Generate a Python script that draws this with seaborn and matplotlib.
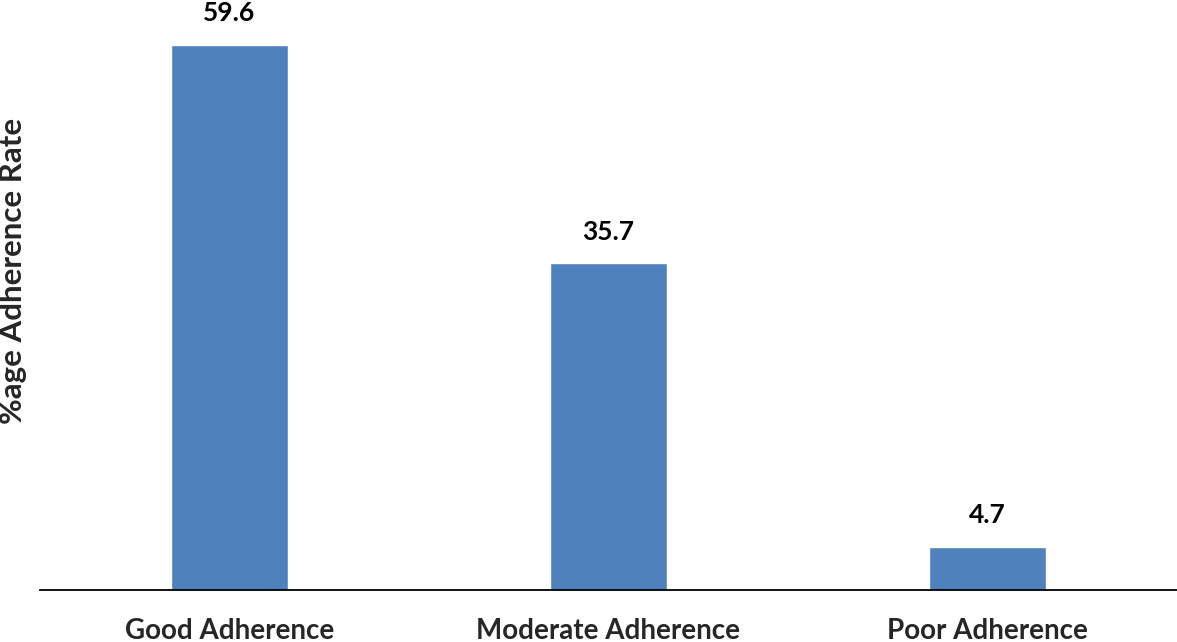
import matplotlib
matplotlib.use("Agg")
import matplotlib.pyplot as plt
import pandas as pd
import seaborn as sns

categories = ["Good Adherence", "Moderate Adherence", "Poor Adherence"]
values = [59.6, 35.7, 4.7]
value_labels = ["59.6", "35.7", "4.7"]

sns.set_style("white")
plt.rcParams["font.family"] = ["Lato", "DejaVu Sans"]

df = pd.DataFrame({"category": categories, "rate": values})

fig = plt.figure(figsize=(11.77, 6.42), dpi=100)
ax = fig.add_axes([40 / 1177, 52 / 642, 1137 / 1177, 590 / 642])

sns.barplot(data=df, x="category", y="rate", color="#4F81BD", saturation=1,
            width=0.31, ax=ax)

for i, v in enumerate(values):
    ax.text(i, v + 2.6, value_labels[i], ha="center", va="baseline",
            fontsize=19, fontweight="bold", color="black")

ax.set_xlim(-0.5, 2.5)
ax.set_ylim(0, 64.5)
ax.set_xlabel("")
ax.set_ylabel("%age Adherence Rate", fontsize=22.5, fontweight="bold",
              va="center")
ax.yaxis.set_label_coords(-0.024, 0.54)
ax.set_yticks([])
ax.tick_params(axis="x", length=0, labelsize=20, pad=20)
for lbl in ax.get_xticklabels():
    lbl.set_fontweight("bold")

for side in ["top", "right", "left"]:
    ax.spines[side].set_visible(False)
ax.spines["bottom"].set_color("black")
ax.spines["bottom"].set_linewidth(1.3)
ax.patch.set_alpha(0)

fig.savefig("out.png", dpi=100)
plt.close(fig)
